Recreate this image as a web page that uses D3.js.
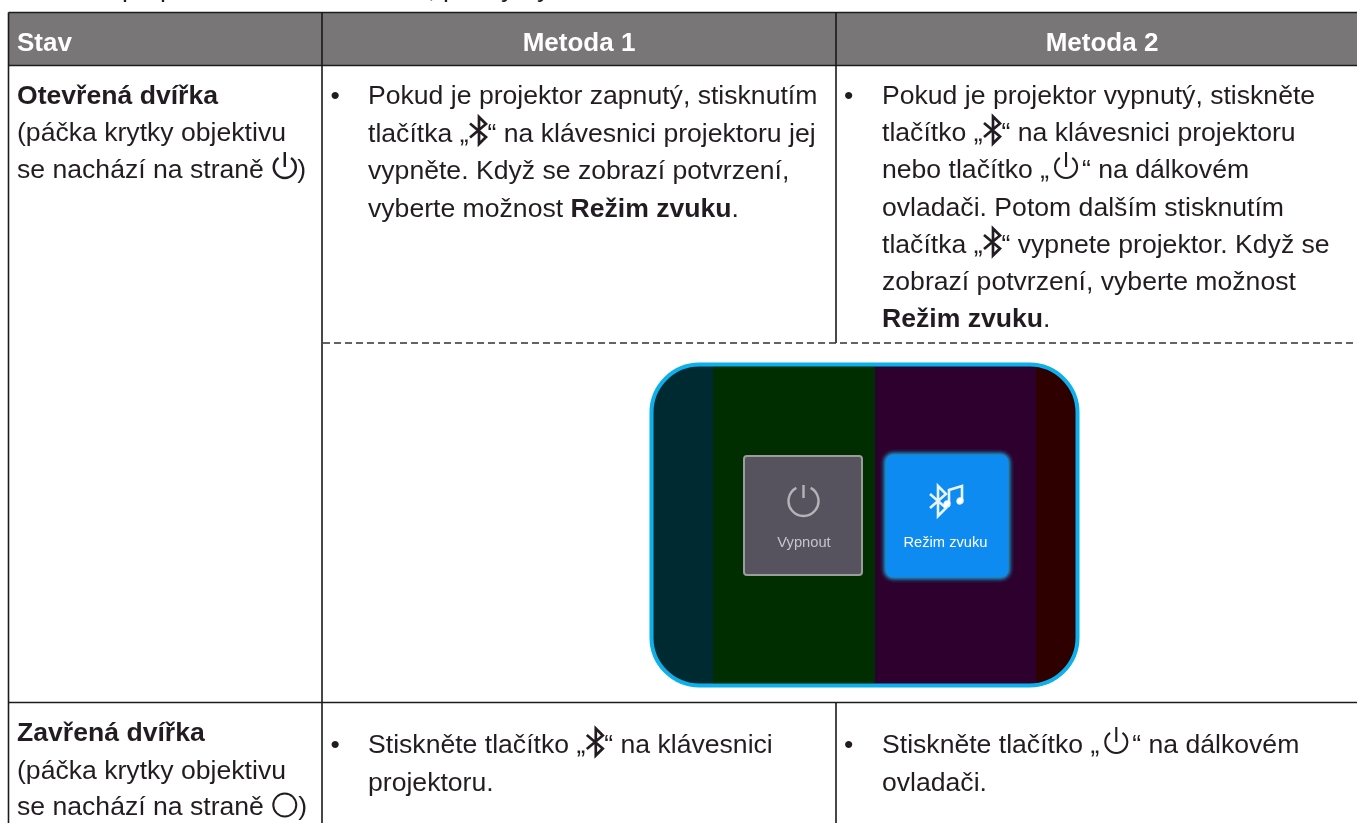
<!DOCTYPE html>
<html><head><meta charset="utf-8">
<script src="https://cdn.jsdelivr.net/npm/d3@7"></script>
<style>html,body{margin:0;padding:0;background:#fff;overflow:hidden}svg{display:block}text{font-family:"Liberation Sans",Arial,sans-serif}</style>
</head><body><svg id="c" width="1357" height="823"></svg>
<script>
const headers=["Stav","Metoda 1","Metoda 2"];
const topFragments=[["p",122],["p",160],[",",428],["p",443],["y",501],["y",537]];
const state1=["**Otevřená dvířka","(páčka krytky objektivu","se nachází na straně {pl})"];
const state2=["**Zavřená dvířka","(páčka krytky objektivu","se nachází na straně {ci})"];
const m1=["Pokud je projektor zapnutý, stisknutím","tlačítka „{bt}“ na klávesnici projektoru jej","vypněte. Když se zobrazí potvrzení,","vyberte možnost **Režim zvuku**."];
const m2=["Pokud je projektor vypnutý, stiskněte","tlačítko „{bt}“ na klávesnici projektoru","nebo tlačítko „{pw}“ na dálkovém","ovladači. Potom dalším stisknutím","tlačítka „{bt}“ vypnete projektor. Když se","zobrazí potvrzení, vyberte možnost","**Režim zvuku**."];
const b1=["Stiskněte tlačítko „{bt}“ na klávesnici","projektoru."];
const b2=["Stiskněte tlačítko „{pw}“ na dálkovém","ovladači."];
const stripes=["#032c30","#002d00","#2e002d","#2d0000"];
const stripeEdges=[649,713,875,1036,1080];
const buttonLabels=["Vypnout","Režim zvuku"];

const svg=d3.select("#c"), ink="#231f20", fs=26.6;
const defs=svg.append("defs");
defs.append("clipPath").attr("id","pc").append("rect").attr("x",650).attr("y",363).attr("width",429).attr("height",324).attr("rx",50);
const glow=defs.append("filter").attr("id","glow").attr("x","-20%").attr("y","-20%").attr("width","140%").attr("height","140%");
glow.append("feGaussianBlur").attr("stdDeviation",2.2);
const soft=defs.append("filter").attr("id","soft");
soft.append("feGaussianBlur").attr("stdDeviation",0.45);
const g=svg.append("g").attr("filter","url(#soft)");

g.selectAll(".frag").data(topFragments).join("text").attr("x",d=>d[1]).attr("y",-3.5).attr("font-size",fs).attr("fill",ink).text(d=>d[0]);

function icon(p,kind,x,base){
  if(kind==="pw"||kind==="pl"){const dx=kind==="pw"?17:13.5;
    const c=p.append("g").attr("transform",`translate(${x+dx},${base-11})`).attr("fill","none").attr("stroke",ink).attr("stroke-width",kind==="pw"?2.1:2.5);
    c.append("path").attr("d",d3.arc()({innerRadius:11,outerRadius:11,startAngle:0.6,endAngle:2*Math.PI-0.6}));
    c.append("line").attr("y1",-15).attr("y2",0);return kind==="pw"?33:26;}
  if(kind==="ci"){p.append("circle").attr("cx",x+13.5).attr("cy",base-10).attr("r",11.5).attr("fill","none").attr("stroke",ink).attr("stroke-width",2);return 27;}
  const c=p.append("g").attr("transform",`translate(${x+10},${base-11})`);
  c.append("path").attr("d","M-8.5,-7L7.5,6.5L0.5,13.5V-13.5L7.5,-6.5L-8.5,7").attr("fill","none").attr("stroke",ink).attr("stroke-width",2.7);
  return 19;
}
function line(p,s,x,base,size,fill){
  let cx=x,bold=false;
  s.split(/(\*\*|\{\w+\})/).filter(t=>t!=="").forEach(t=>{
    if(t==="**"){bold=!bold;return;}
    const m=t.match(/^\{(\w+)\}$/);
    if(m){cx+=icon(p,m[1],cx,base);return;}
    const e=p.append("text").attr("x",cx).attr("y",base).attr("font-size",size).attr("font-weight",bold?"bold":"normal").attr("fill",fill||ink).attr("xml:space","preserve").style("white-space","pre").text(t);
    cx+=e.node().getComputedTextLength();
  });
}
function block(lines,x,bases,bullet){
  if(bullet) g.append("text").attr("x",bullet).attr("y",bases[0]).attr("font-size",fs).attr("fill",ink).text("•");
  lines.forEach((s,i)=>line(g,s,x,bases[i],fs));
}
g.append("rect").attr("x",8.5).attr("y",12.5).attr("width",1349).attr("height",53).attr("fill","#787677");
[[8.5,12.5,1357,12.5],[8.5,65.5,1357,65.5],[8.5,12.5,8.5,823],[322,12.5,322,823],[836,12.5,836,343],[836,702.5,836,823],[8.5,702.5,1357,702.5]]
 .forEach(d=>g.append("line").attr("x1",d[0]).attr("y1",d[1]).attr("x2",d[2]).attr("y2",d[3]).attr("stroke","#1c1a1a").attr("stroke-width",1.6));
g.append("line").attr("x1",323).attr("y1",343).attr("x2",1357).attr("y2",343).attr("stroke","#333").attr("stroke-width",1.4).attr("stroke-dasharray","7 4");

const hx=[17,579,1102];
g.selectAll(".h").data(headers).join("text").attr("x",(d,i)=>hx[i]).attr("y",51).attr("font-size",26).attr("font-weight","bold").attr("fill","#fff").attr("text-anchor",(d,i)=>i?"middle":"start").text(d=>d);

block(state1,17,[104,141,178]);
block(m1,368,[104,141.5,179,216.5],330.5);
block(m2,882,[104,141,178,215.5,253,290,327],844);
block(state2,17,[741,779,815]);
block(b1,368,[753,790.5],330.5);
block(b2,882,[753,790.5],844);

const pnl=g.append("g").attr("clip-path","url(#pc)");
const sx=d3.scaleOrdinal().domain(stripes).range(stripeEdges.slice(0,4));
pnl.selectAll("rect").data(stripes).join("rect").attr("x",d=>sx(d)).attr("y",363).attr("height",324).attr("width",(d,i)=>stripeEdges[i+1]-stripeEdges[i]).attr("fill",d=>d);
g.append("rect").attr("x",651.5).attr("y",364.5).attr("width",426).attr("height",321).attr("rx",48).attr("fill","none").attr("stroke","#0db0ea").attr("stroke-width",4);
g.append("rect").attr("x",744).attr("y",456).attr("width",118).attr("height",119).attr("rx",3).attr("fill","#57535f").attr("stroke","#9c9c9c").attr("stroke-width",2);
g.append("rect").attr("x",884).attr("y",453).attr("width",126).attr("height",126).attr("rx",9).attr("fill","#17b4ea").attr("filter","url(#glow)");
g.append("rect").attr("x",886).attr("y",455).attr("width",122).attr("height",122).attr("rx",7).attr("fill","#0d8bf0");
const pw=g.append("g").attr("transform","translate(803.5,501)").attr("fill","none").attr("stroke","#b5b3b8").attr("stroke-width",2.4);
pw.append("path").attr("d",d3.arc()({innerRadius:15,outerRadius:15,startAngle:0.5,endAngle:2*Math.PI-0.5}));
pw.append("line").attr("y1",-16).attr("y2",-3);
const bt=g.append("g").attr("transform","translate(938,501)").attr("fill","none").attr("stroke","#fff").attr("stroke-width",2.6).attr("stroke-opacity",.9);
bt.append("path").attr("d","M-8,-7L8,7L0,15V-15L8,-7L-8,7");
bt.append("path").attr("d","M11,3V-11L24,-15V0").attr("stroke-width",2.6);
bt.append("circle").attr("cx",9).attr("cy",3).attr("r",2.4).attr("fill","#fff");
bt.append("circle").attr("cx",22).attr("cy",0).attr("r",2.4).attr("fill","#fff");
g.selectAll(".b").data(buttonLabels).join("text").attr("x",(d,i)=>[804,945.5][i]).attr("y",546.5).attr("text-anchor","middle").attr("font-size",14.7).attr("fill",(d,i)=>["#c6c4ca","#fff"][i]).text(d=>d);
</script></body></html>
